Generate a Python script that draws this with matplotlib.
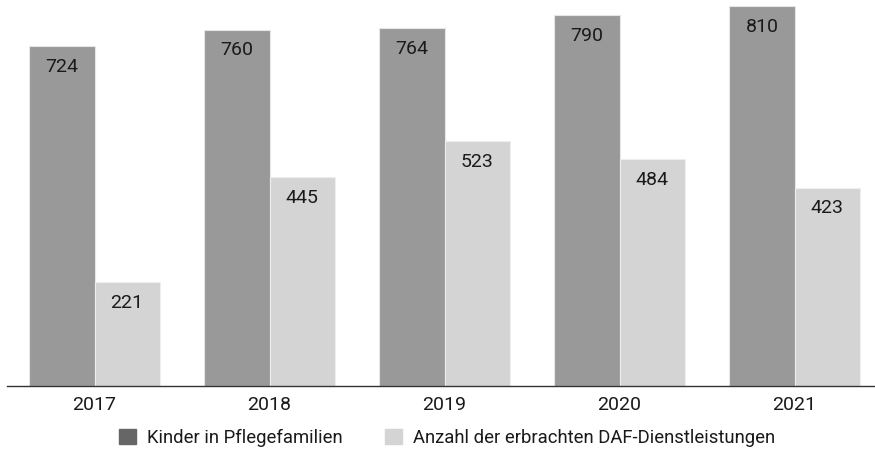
import numpy as np
import matplotlib.pyplot as plt
from matplotlib.patches import Patch

years = ['2017', '2018', '2019', '2020', '2021']
kinder = [724, 760, 764, 790, 810]
daf = [221, 445, 523, 484, 423]
series_names = ['Kinder in Pflegefamilien', 'Anzahl der erbrachten DAF-Dienstleistungen']

plt.rcParams['font.family'] = ['Roboto', 'DejaVu Sans']

fig = plt.figure(figsize=(8.75, 4.53), dpi=100)
ax = fig.add_axes([0.008, 0.148, 0.992, 0.852])

x = np.arange(len(years))
w = 0.372
b1 = ax.bar(x - w / 2, kinder, w, color='#999999', edgecolor='#e6e6e6', linewidth=0.8)
b2 = ax.bar(x + w / 2, daf, w, color='#d4d4d4', edgecolor='#eeeeee', linewidth=0.8)

for bars, vals in ((b1, kinder), (b2, daf)):
    for r, v in zip(bars, vals):
        ax.annotate(str(v), (r.get_x() + r.get_width() / 2, v), xytext=(0, -15),
                    textcoords='offset points', ha='center', va='center',
                    fontsize=14, color='#1a1a1a')

ax.set_xlim(-0.5, 4.46)
ax.set_ylim(0, 823)
ax.set_xticks(x)
ax.set_xticklabels(years, fontsize=14, color='#1a1a1a')
ax.tick_params(axis='x', length=0, pad=7)
ax.set_yticks([])
for s in ['top', 'right', 'left']:
    ax.spines[s].set_visible(False)
ax.spines['bottom'].set_color('#333333')
ax.spines['bottom'].set_linewidth(1.0)

handles = [Patch(color='#666666'), Patch(color='#d4d4d4')]
fig.legend(handles, series_names, loc='center', bbox_to_anchor=(0.511, 0.033), ncol=2,
           frameon=False, fontsize=13.3, handlelength=0.9, handleheight=0.9,
           handletextpad=0.6, columnspacing=2.3, labelcolor='#1a1a1a')

plt.savefig('out.png', dpi=100)
